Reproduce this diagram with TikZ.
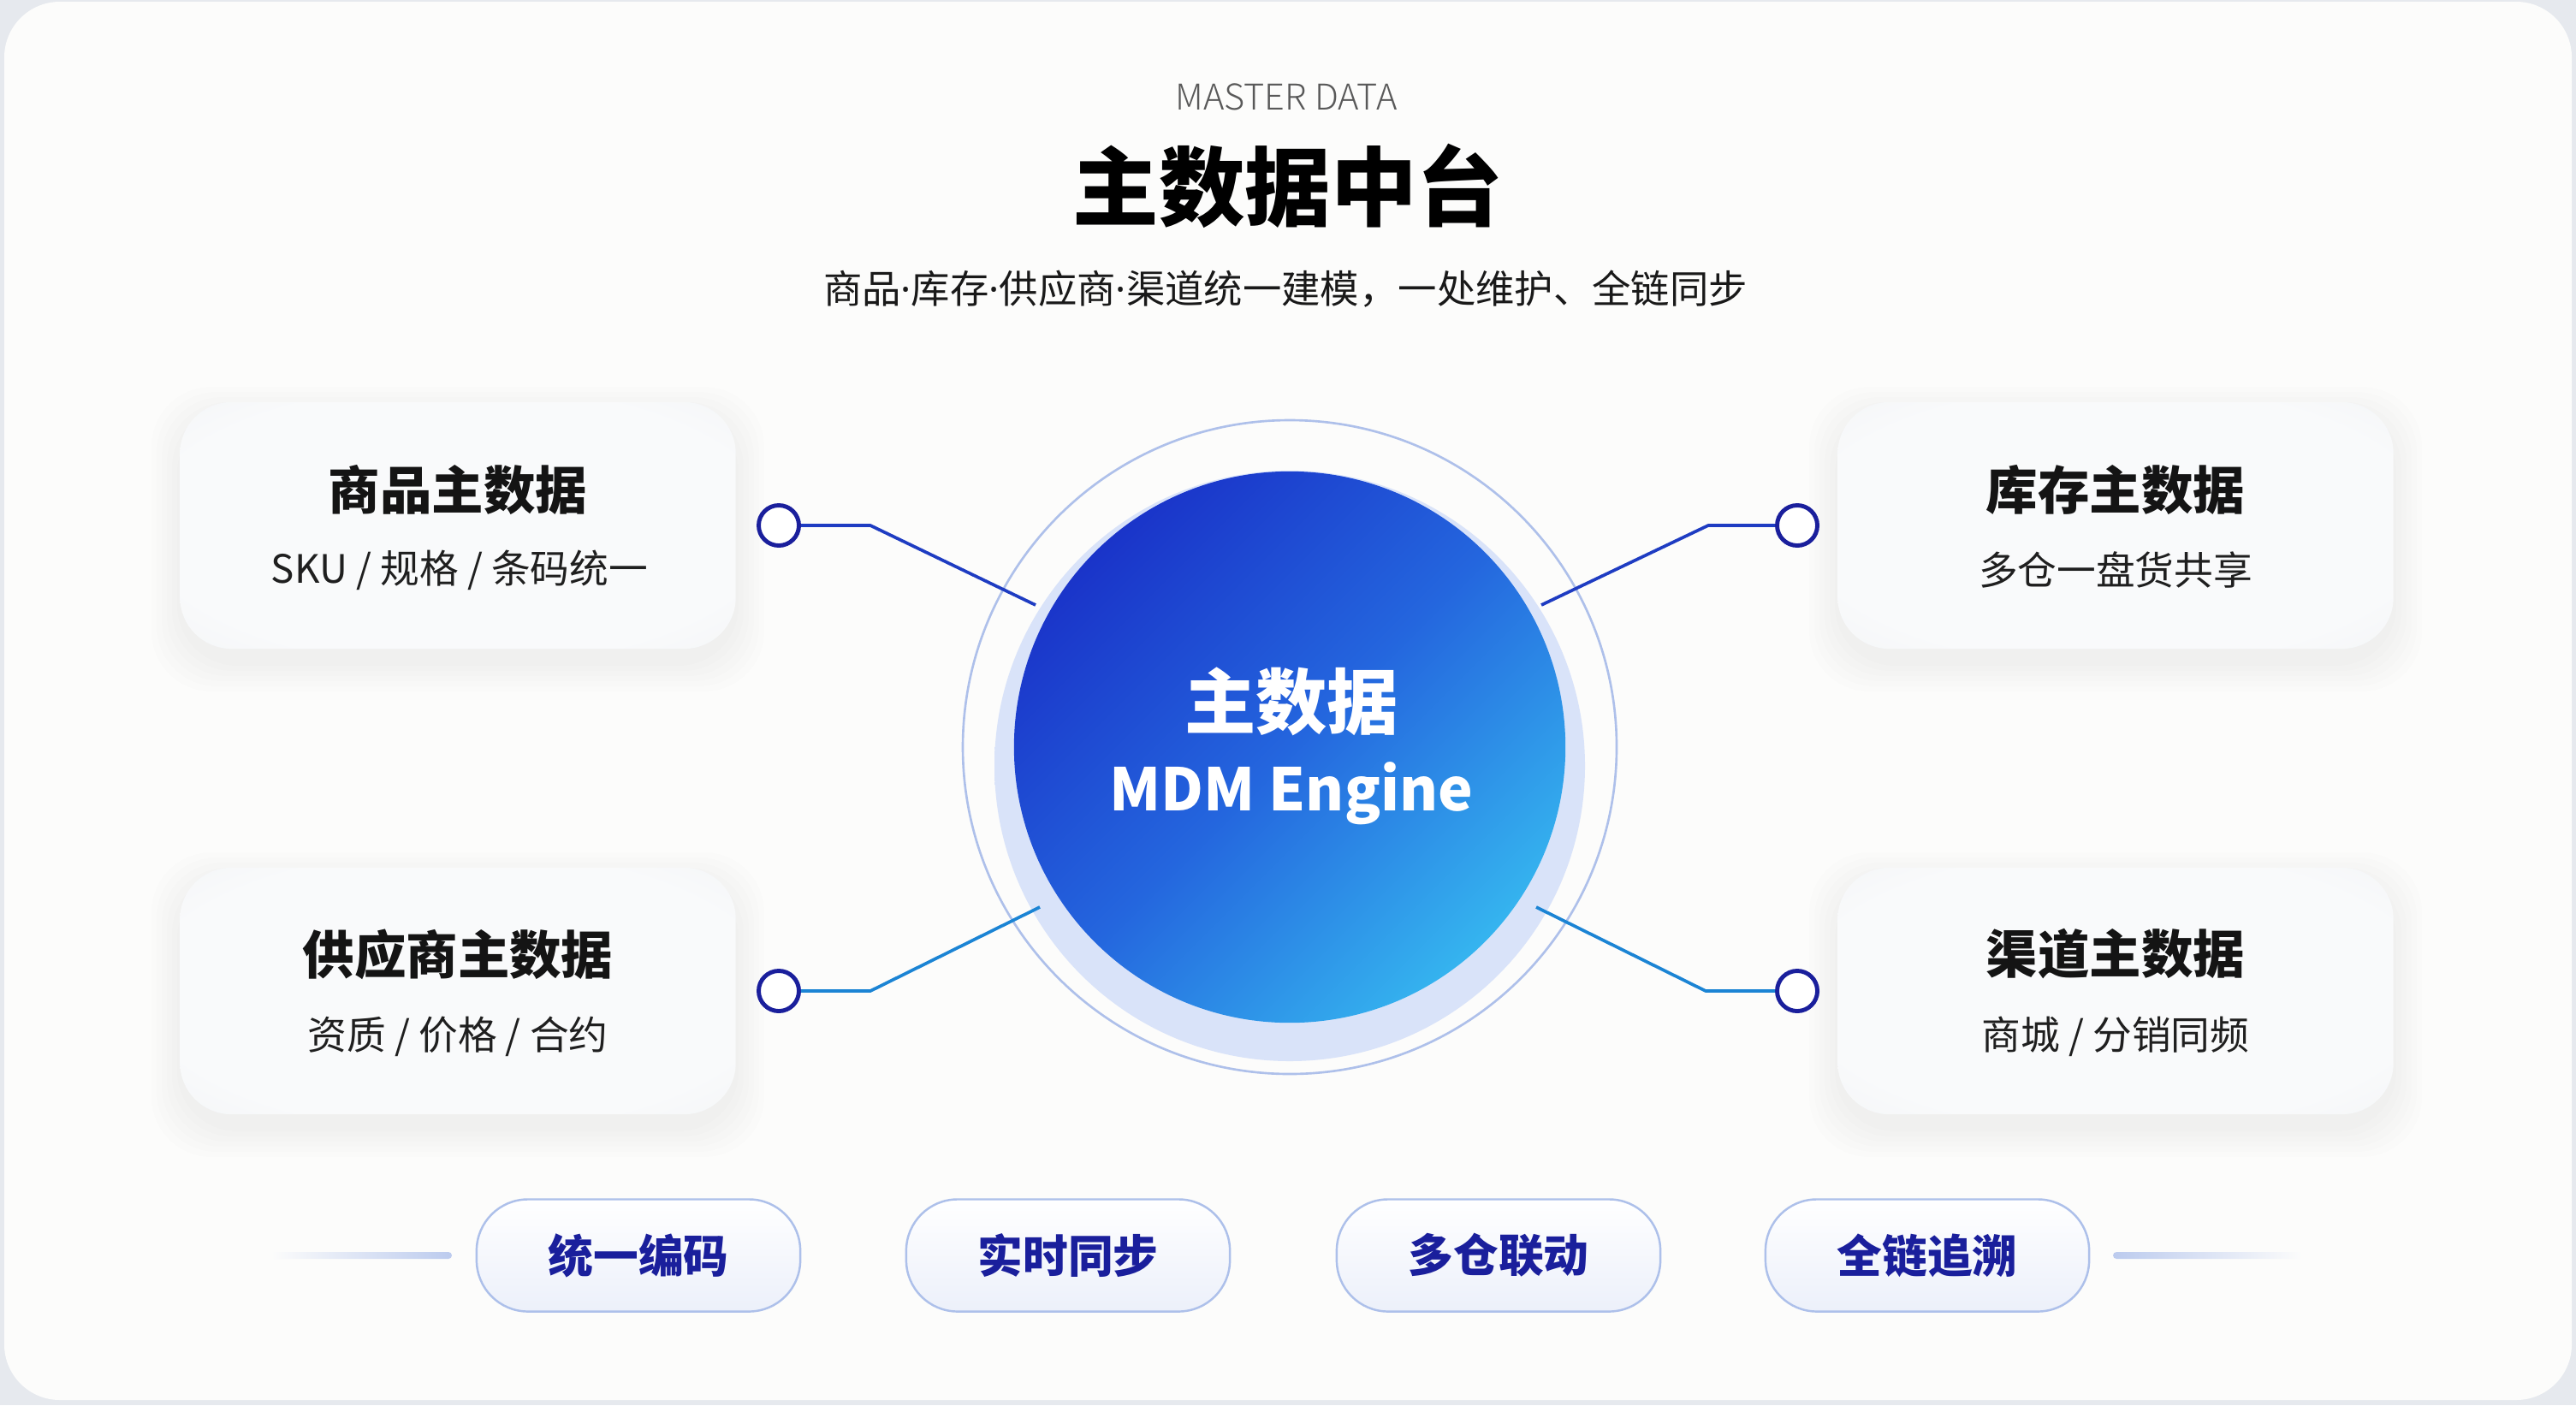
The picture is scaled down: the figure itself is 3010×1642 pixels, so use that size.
\documentclass[tikz,border=0pt]{standalone}
\usepackage{fontspec}
\setmainfont{Noto Sans CJK SC}
\newfontfamily\latinf{Noto Sans}
\IfFontExistsTF{Noto Sans CJK SC Light}{\newfontfamily\lightf{Noto Sans CJK SC Light}}{\newfontfamily\lightf{Noto Sans CJK SC}}
\usetikzlibrary{calc}
\definecolor{bgout}{HTML}{E6E9EE}
\definecolor{card}{HTML}{FCFCFB}
\definecolor{boxin}{HTML}{F9FAFB}
\definecolor{boxout}{HTML}{ECEEF2}
\definecolor{deepblue}{HTML}{1A34C9}
\definecolor{midblue}{HTML}{2466DE}
\definecolor{lightblue}{HTML}{35B4EF}
\definecolor{ring}{HTML}{AEC0EA}
\definecolor{navy}{HTML}{1A1F9C}
\definecolor{linkA}{HTML}{1E3CC2}
\definecolor{linkB}{HTML}{1B84D4}
\definecolor{pillline}{HTML}{ADC0EA}
\definecolor{pillbot}{HTML}{ECF0FA}
\definecolor{halo}{HTML}{D9E3F9}
\definecolor{fadeline}{HTML}{BCCBEE}
\pgfdeclareradialshading{haloshade}{\pgfpoint{0bp}{0bp}}{color(0bp)=(halo); color(44bp)=(halo); color(50bp)=(card)}
\pgfdeclareradialshading{boxshade}{\pgfpoint{0bp}{0bp}}{color(0bp)=(boxin); color(28bp)=(boxin); color(50bp)=(boxout); color(75bp)=(boxout)}
\tikzset{
  box/.style={rectangle, rounded corners=0.6cm, minimum width=6.49cm, minimum height=2.88cm, shading=boxshade, inner sep=0pt},
  boxtitle/.style={font=\fontsize{17.2pt}{20pt}\selectfont\bfseries, text=black!92, inner sep=0pt},
  boxsub/.style={font=\fontsize{13pt}{15pt}\selectfont, text=black!88, inner sep=0pt},
  core/.style={circle, minimum size=6.44cm, inner sep=0pt, top color=deepblue, bottom color=lightblue, middle color=midblue, shading angle=45},
  dot/.style={circle, minimum size=0.47cm, inner sep=0pt, draw=navy, line width=1.4pt, fill=white},
  linkline/.style={line width=1.05pt, line join=round},
  pill/.style={rectangle, rounded corners=0.6cm, minimum width=3.78cm, minimum height=1.31cm, draw=pillline, line width=0.7pt, top color=white, bottom color=pillbot, font=\fontsize{15pt}{18pt}\selectfont\bfseries, text=navy, inner sep=0pt},
}
\newcommand{\mdot}{{\latinf·}}
\begin{document}
\begin{tikzpicture}[x=0.01cm, y=-0.01cm]
\useasboundingbox (0,0) rectangle (3010,1642);
\fill[bgout] (0,0) rectangle (3010,1642);
\fill[card, rounded corners=0.65cm] (5,2) rectangle (3005,1636);

% header
\node[font=\lightf\fontsize{11.8pt}{14pt}\selectfont, text=black!65, inner sep=0pt] (kicker) at (1503,113) {MASTER DATA};
\node[font=\fontsize{28.6pt}{32pt}\selectfont\bfseries, text=black, inner sep=0pt] (title) at (1505,217) {主数据中台};
\node[font=\fontsize{12.9pt}{15pt}\selectfont, text=black!90, inner sep=0pt] (subtitle) at (1502,338) {商品\mdot 库存\mdot 供应商\mdot 渠道统一建模，一处维护、全链同步};

% box shadows
\foreach \cx/\cy in {535/614, 2472/614, 535/1158, 2472/1158}{
  \foreach \s in {4,10,16,22,28,34}{
    \fill[black, fill opacity=0.006, rounded corners=0.7cm] (\cx-324-\s,\cy-144-\s+16) rectangle (\cx+324+\s,\cy+144+\s+16);
  }
}

% boxes
\node[box] (b1) at (535,614) {};
\node[box] (b2) at (2472,614) {};
\node[box] (b3) at (535,1158) {};
\node[box] (b4) at (2472,1158) {};
\node[boxtitle] (t1) at (535,572) {商品主数据};
\node[boxsub] (s1) at (537,666) {SKU / 规格 / 条码统一};
\node[boxtitle] (t2) at (2472,572) {库存主数据};
\node[boxsub] (s2) at (2472,666) {多仓一盘货共享};
\node[boxtitle] (t3) at (535,1115) {供应商主数据};
\node[boxsub] (s3) at (535,1211) {资质 / 价格 / 合约};
\node[boxtitle] (t4) at (2472,1115) {渠道主数据};
\node[boxsub] (s4) at (2472,1211) {商城 / 分销同频};

% core
\shade[shading=haloshade] (1507,895) circle (345);
\draw[ring, line width=0.75pt] (1507,873) circle (382);
\node[core] (core) at (1507,873) {};
\node[font=\fontsize{23.7pt}{28pt}\selectfont\bfseries, text=white, inner sep=0pt] (coret) at (1509,820) {主数据};
\node[font=\fontsize{19.5pt}{24pt}\selectfont\bfseries, text=white, inner sep=0pt] (coreen) at (1509,927) {MDM Engine};

% connectors
\node[dot] (d1) at (910,614) {};
\node[dot] (d2) at (2100,614) {};
\node[dot] (d3) at (910,1158) {};
\node[dot] (d4) at (2100,1158) {};
\coordinate (e1) at (1017,614);
\coordinate (e2) at (1996,614);
\coordinate (e3) at (1017,1158);
\coordinate (e4) at (1993,1158);
\coordinate (c1) at (1210,707);
\coordinate (c2) at (1801,707);
\coordinate (c3) at (1215,1060);
\coordinate (c4) at (1795,1060);
\draw[linkline, linkA] (d1) -- (e1) -- (c1);
\draw[linkline, linkA] (d2) -- (e2) -- (c2);
\draw[linkline, linkB] (d3) -- (e3) -- (c3);
\draw[linkline, linkB] (d4) -- (e4) -- (c4);

% bottom pills
\node[pill] (p1) at (746,1467) {统一编码};
\node[pill] (p2) at (1248,1467) {实时同步};
\node[pill] (p3) at (1751,1467) {多仓联动};
\node[pill] (p4) at (2252,1467) {全链追溯};

% fading side lines
\coordinate (la) at (317,1467);
\coordinate (lb) at (528,1467);
\coordinate (ra) at (2469,1467);
\coordinate (rb) at (2690,1467);
\shade[left color=card, right color=fadeline, rounded corners=0.04cm] ($(la)+(0,-4)$) rectangle ($(lb)+(0,4)$);
\shade[left color=fadeline, right color=card, rounded corners=0.04cm] ($(ra)+(0,-4)$) rectangle ($(rb)+(0,4)$);
\end{tikzpicture}
\end{document}
